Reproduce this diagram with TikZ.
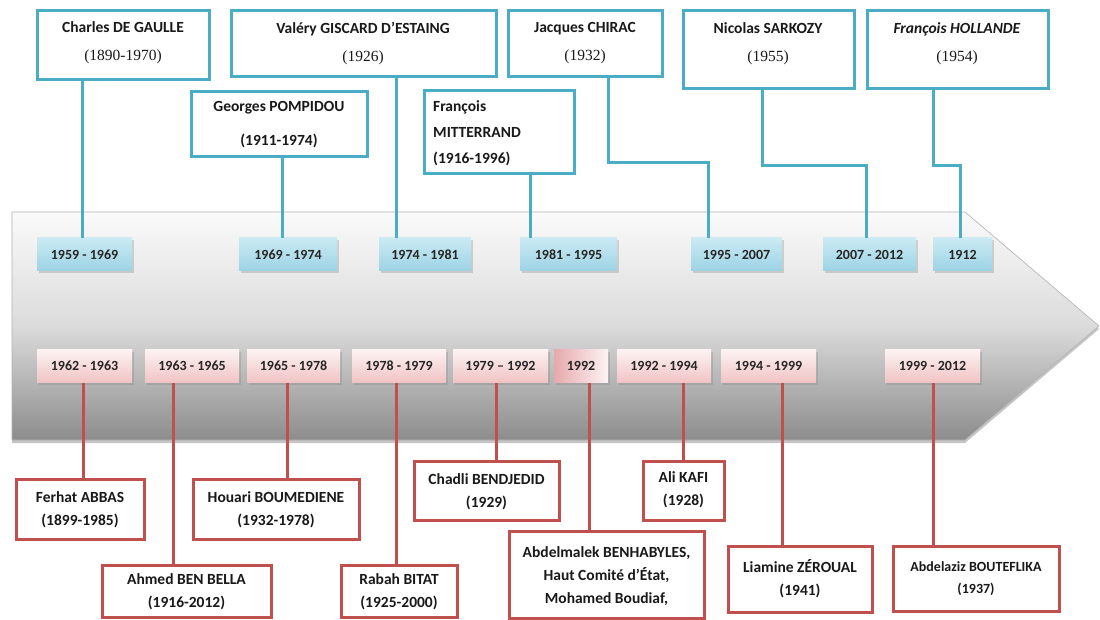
\documentclass[tikz,border=0pt]{standalone}
\usepackage{fontspec}
\setmainfont{Carlito}
\newfontfamily\serifyear{Liberation Serif}
\usetikzlibrary{fit,shadows}

\definecolor{presblue}{HTML}{4BACC6}
\definecolor{leadred}{HTML}{C0504D}
\definecolor{bluetop}{HTML}{CBEAF3}
\definecolor{bluebot}{HTML}{9CD3E4}
\definecolor{pinktop}{HTML}{FDF3F3}
\definecolor{pinkbot}{HTML}{F0C3C4}
\definecolor{pinkdeep}{HTML}{E6A9AD}

\newcommand\yrs[1]{{\serifyear\mdseries #1}}

\tikzset{
  presbox/.style={draw=presblue, line width=3pt, fill=white, inner sep=0pt},
  leadbox/.style={draw=leadred, line width=3pt, fill=white, inner sep=0pt},
  presline/.style={draw=presblue, line width=3pt},
  leadline/.style={draw=leadred, line width=3pt},
  nametxt/.style={font=\fontsize{15.5}{#1}\selectfont\bfseries, align=center,
    text=black!90, inner sep=0pt},
  nametxt/.default=28,
  datebox/.style={inner sep=0pt, minimum height=33pt,
    font=\fontsize{14}{16}\selectfont\bfseries, text=black!85,
    drop shadow={shadow xshift=2pt, shadow yshift=-2pt, opacity=.3}},
  bluedate/.style={datebox, top color=bluetop, bottom color=bluebot},
  pinkdate/.style={datebox, top color=pinktop, bottom color=pinkbot},
}

\begin{document}
\begin{tikzpicture}[x=1pt, y=-1pt]
    \fill[white] (0,0) rectangle (1100,620);
    \useasboundingbox (0,0) rectangle (1100,620);

    % Grey arrow band
    \path[draw=black!30, line width=0.6pt, top color=black!2, bottom color=black!45,
          middle color=black!14,
          drop shadow={shadow xshift=0pt, shadow yshift=-3pt, opacity=.45}]
        (12,212) -- (965,212) -- (1099,326) -- (965,440) -- (12,440) -- cycle;

    % Presidents of France (top row)
    \node[presbox, fit={(37,11) (209,80)}] (gaulle) {};
    \node[presbox, fit={(231,11) (496,77)}] (giscard) {};
    \node[presbox, fit={(508,11) (662,77)}] (chirac) {};
    \node[presbox, fit={(683,11) (854,89)}] (sarkozy) {};
    \node[presbox, fit={(867,11) (1048,89)}] (hollande) {};
    \node[presbox, fit={(191,92) (367,157)}] (pompidou) {};
    \node[presbox, fit={(424,91) (574,174)}] (mitterrand) {};

    \node[nametxt] (gaulle-t) at (123,43) {Charles DE GAULLE\\ \yrs{(1890-1970)}};
    \node[nametxt] (giscard-t) at (363,43.5) {Valéry GISCARD D'ESTAING\\ \yrs{(1926)}};
    \node[nametxt] (chirac-t) at (585,43.5) {Jacques CHIRAC\\ \yrs{(1932)}};
    \node[nametxt] (sarkozy-t) at (768,43.5) {Nicolas SARKOZY\\ \yrs{(1955)}};
    \node[nametxt] (hollande-t) at (957,44) {\textit{François HOLLANDE}\\ \yrs{(1954)}};
    \node[nametxt=34] (pompidou-t) at (279,125) {Georges POMPIDOU\\ (1911-1974)};
    \node[nametxt=26, align=left, anchor=west] (mitterrand-t) at (433,133)
        {François\\ MITTERRAND\\ (1916-1996)};

    % Dates in office, France
    \foreach \nm/\cx/\w/\txt in {d1/84.5/95/1959 - 1969, d2/288/98/1969 - 1974,
        d3/425/92/1974 - 1981, d4/568.5/97/1981 - 1995, d5/736.5/91/1995 - 2007,
        d6/869.5/93/2007 - 2012, d7/962.5/59/1912}
        \node[bluedate, minimum width=\w pt] (\nm) at (\cx,254.5) {\txt};

    % Dates in office, Algeria
    \foreach \nm/\cx/\w/\txt in {r1/84.5/95/1962 - 1963, r2/192/94/1963 - 1965,
        r3/293.5/93/1965 - 1978, r4/399/94/1978 - 1979, r5/500.5/95/1979 -- 1992,
        r7/664/94/1992 - 1994, r8/768.5/95/1994 - 1999, r9/932.5/95/1999 - 2012}
        \node[pinkdate, minimum width=\w pt] (\nm) at (\cx,366) {\txt};
    \node[pinkdate, left color=pinkdeep, right color=pinktop, minimum width=54pt]
        (r6) at (581,366) {1992};

    % Heads of state of Algeria (bottom row)
    \node[leadbox, fit={(16,479) (144,539)}] (ferhat) {};
    \node[leadbox, fit={(193,479) (359,539)}] (boumediene) {};
    \node[leadbox, fit={(102,565) (271,617)}] (benbella) {};
    \node[leadbox, fit={(341,565) (457,617)}] (bitat) {};
    \node[leadbox, fit={(414,461) (559,520)}] (bendjedid) {};
    \node[leadbox, fit={(509,531) (704,618)}] (benhabyles) {};
    \node[leadbox, fit={(643,461) (724,520)}] (kafi) {};
    \node[leadbox, fit={(728,546) (872,612)}] (zeroual) {};
    \node[leadbox, fit={(893,546) (1059,611)}] (bouteflika) {};

    \node[nametxt=23] (ferhat-t) at (80,510) {Ferhat ABBAS\\ (1899-1985)};
    \node[nametxt=23] (boumediene-t) at (276,510) {Houari BOUMEDIENE\\ (1932-1978)};
    \node[nametxt=23] (benbella-t) at (186.5,592) {Ahmed BEN BELLA\\ (1916-2012)};
    \node[nametxt=23] (bitat-t) at (399,592) {Rabah BITAT\\ (1925-2000)};
    \node[nametxt=23] (bendjedid-t) at (486.5,492) {Chadli BENDJEDID\\ (1929)};
    \node[nametxt=23] (benhabyles-t) at (606.5,576)
        {Abdelmalek BENHABYLES,\\ Haut Comité d'État,\\ Mohamed Boudiaf,};
    \node[nametxt=23] (kafi-t) at (683.5,490) {Ali KAFI\\ (1928)};
    \node[nametxt=23] (zeroual-t) at (800,579) {Liamine ZÉROUAL\\ (1941)};
    \node[nametxt=22, font=\fontsize{14}{22}\selectfont\bfseries] (bouteflika-t)
        at (976,579) {Abdelaziz BOUTEFLIKA\\ (1937)};

    % Connectors, France
    \draw[presline] (gaulle.south -| 82,0) -- (d1.north -| 82,0);
    \draw[presline] (pompidou.south -| 282,0) -- (d2.north -| 282,0);
    \draw[presline] (giscard.south -| 396,0) -- (d3.north -| 396,0);
    \draw[presline] (mitterrand.south -| 530,0) -- (d4.north -| 530,0);
    \draw[presline] (chirac.south -| 608,0) |- (708,163) -- (d5.north -| 708,0);
    \draw[presline] (sarkozy.south -| 762,0) |- (866,166) -- (d6.north -| 866,0);
    \draw[presline] (hollande.south -| 933,0) |- (960,166) -- (d7.north -| 960,0);

    % Connectors, Algeria
    \draw[leadline] (r1.south -| 83,0) -- (ferhat.north -| 83,0);
    \draw[leadline] (r2.south -| 173,0) -- (benbella.north -| 173,0);
    \draw[leadline] (r3.south -| 287,0) -- (boumediene.north -| 287,0);
    \draw[leadline] (r4.south -| 396,0) -- (bitat.north -| 396,0);
    \draw[leadline] (r5.south -| 496,0) -- (bendjedid.north -| 496,0);
    \draw[leadline] (r6.south -| 589,0) -- (benhabyles.north -| 589,0);
    \draw[leadline] (r7.south -| 683,0) -- (kafi.north -| 683,0);
    \draw[leadline] (r8.south -| 782,0) -- (zeroual.north -| 782,0);
    \draw[leadline] (r9.south -| 933,0) -- (bouteflika.north -| 933,0);
\end{tikzpicture}
\end{document}
